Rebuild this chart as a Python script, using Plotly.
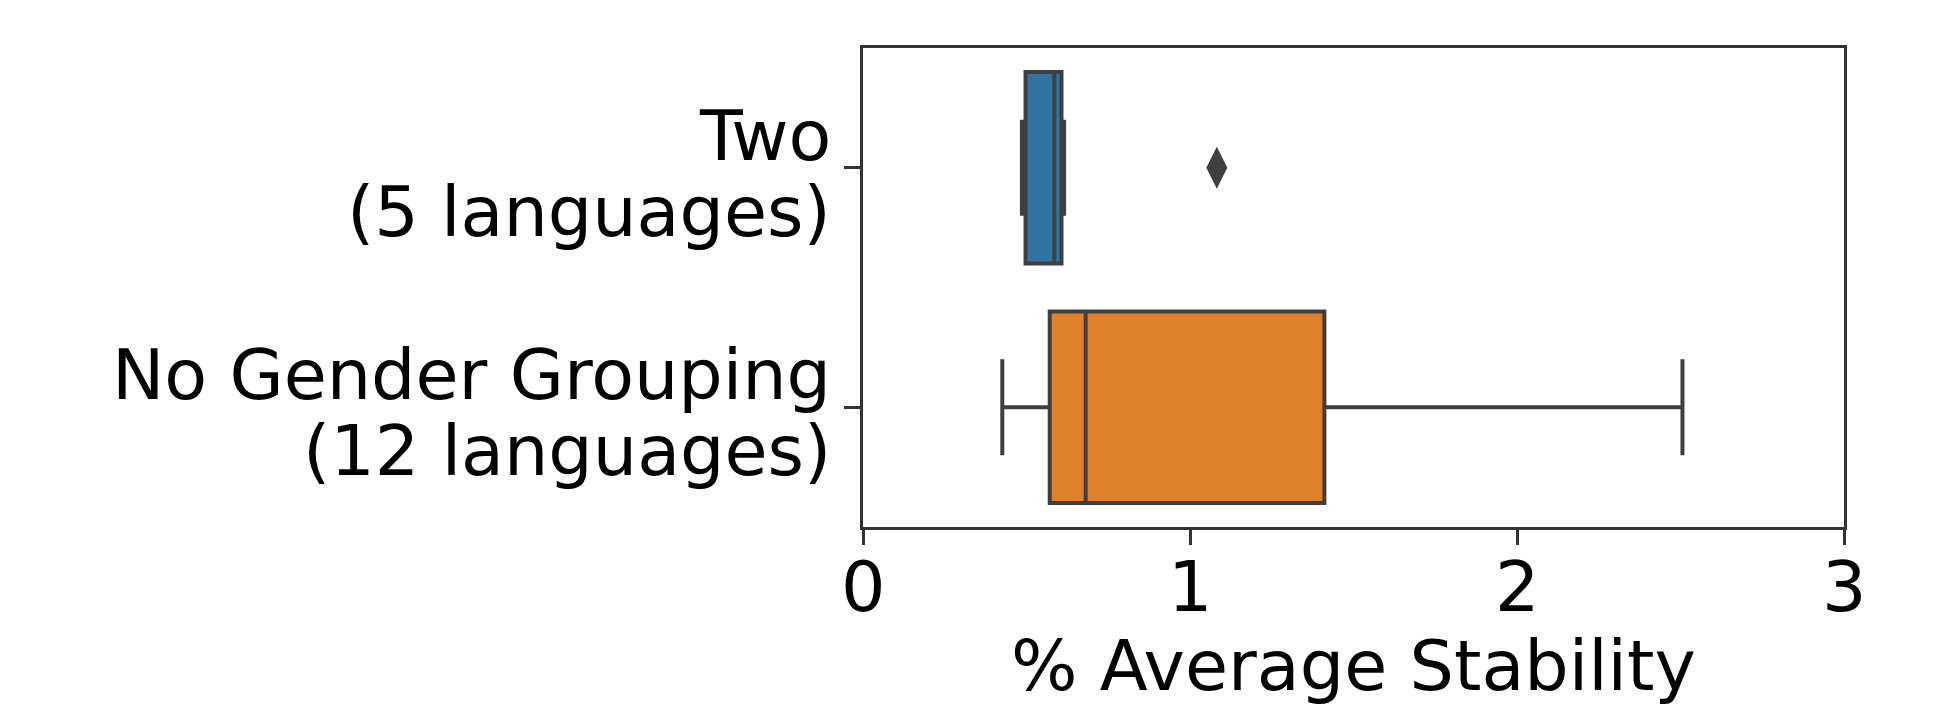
import plotly.graph_objects as go

# Box-plot summary statistics per grouping category
categories = ["Two", "No Gender Grouping"]
label_sub = ["(5 languages)", "(12 languages)"]
q1_vals = [0.497, 0.571]
median_vals = [0.585, 0.681]
q3_vals = [0.607, 1.411]
lower_vals = [0.486, 0.426]
upper_vals = [0.615, 2.506]
box_colors = ["#3274A1", "#E1812C"]

# Points beyond the whiskers
outlier_cats = ["Two"]
outlier_vals = [1.082]

x_ticks = [0, 1, 2, 3]
edge = "#3f3f3f"
font_family = "DejaVu Sans"
fs = 70

fig = go.Figure()
for cat, q1, med, q3, lo, hi, col in zip(categories, q1_vals, median_vals, q3_vals,
                                         lower_vals, upper_vals, box_colors):
    fig.add_trace(go.Box(
        y=[cat], q1=[q1], median=[med], q3=[q3],
        lowerfence=[lo], upperfence=[hi],
        orientation="h", width=0.8, whiskerwidth=0.5,
        fillcolor=col, line=dict(color=edge, width=4),
        boxpoints=False, showlegend=False,
    ))

fig.add_trace(go.Scatter(
    x=outlier_vals, y=outlier_cats, mode="markers",
    marker=dict(symbol="diamond-tall", size=30, color=edge, line=dict(width=0)),
    showlegend=False,
))

# Two-line category labels, set with tighter line spacing than tick labels allow
for cat, sub in zip(categories, label_sub):
    for text, shift in ((cat, 32), (sub, -44)):
        fig.add_annotation(
            text=text, xref="paper", x=0, yref="y", y=cat,
            xanchor="right", yanchor="middle", xshift=-30, yshift=shift,
            showarrow=False, font=dict(family=font_family, size=fs, color="black"),
        )

# x tick labels, placed close under the tick marks
for t in x_ticks:
    fig.add_annotation(
        text=str(t), xref="x", x=t, yref="paper", y=0,
        xanchor="center", yanchor="top", yshift=-22, height=72,
        showarrow=False, font=dict(family=font_family, size=fs, color="black"),
    )

fig.update_layout(
    width=1936, height=707,
    margin=dict(l=863, r=92, t=48, b=180, autoexpand=False),
    paper_bgcolor="white", plot_bgcolor="white",
    font=dict(family=font_family, size=fs, color="black"),
)
fig.update_xaxes(
    range=[0, 3], tickvals=x_ticks, showticklabels=False,
    showgrid=False, zeroline=False, automargin=False,
    showline=True, linecolor="#333333", linewidth=3, mirror=True,
    ticks="outside", ticklen=15, tickwidth=3, tickcolor="#333333",
    title=dict(text="% Average Stability", font=dict(size=fs), standoff=107),
)
fig.update_yaxes(
    type="category", categoryorder="array", categoryarray=categories,
    range=[1.5, -0.5], showticklabels=False,
    showgrid=False, zeroline=False, automargin=False,
    showline=True, linecolor="#333333", linewidth=3, mirror=True,
    ticks="outside", ticklen=16, tickwidth=3, tickcolor="#333333",
)

fig.write_html("out.html")
